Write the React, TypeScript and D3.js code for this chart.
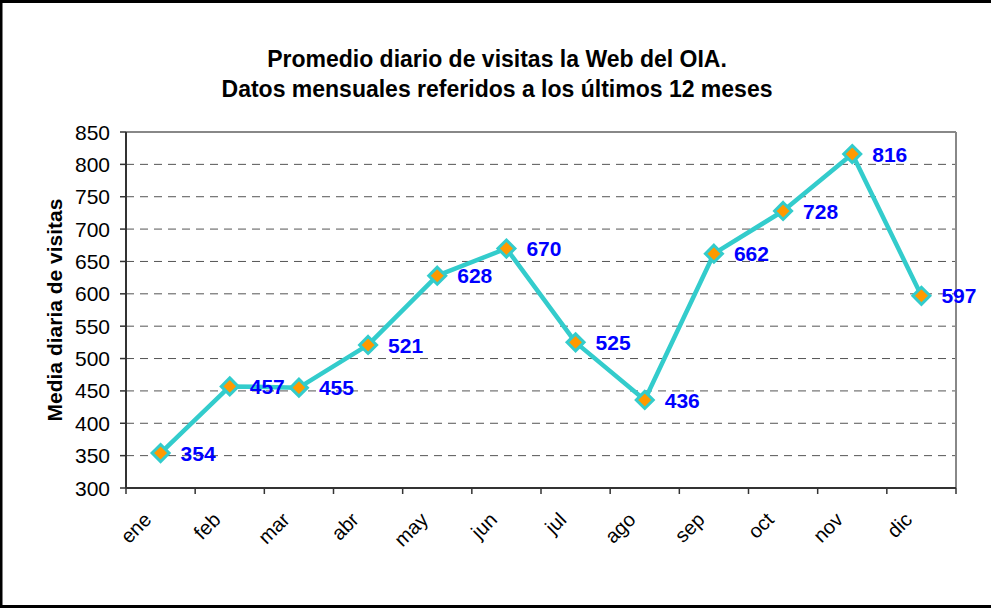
import * as d3 from 'd3';

const months = ['ene', 'feb', 'mar', 'abr', 'may', 'jun', 'jul', 'ago', 'sep', 'oct', 'nov', 'dic'];
const visits = [354, 457, 455, 521, 628, 670, 525, 436, 662, 728, 816, 597];
const yTicks = [300, 350, 400, 450, 500, 550, 600, 650, 700, 750, 800, 850];
const titleLines = ['Promedio diario de visitas la Web del OIA.', 'Datos mensuales referidos a los últimos 12 meses'];
const yLabel = 'Media diaria de visitas';

export default function App() {
    const width = 991
    const height = 610
    const left = 126, right = 956, top = 132, bottom = 488
    const font = 'Arial, "Liberation Sans", sans-serif'

    const x = d3.scaleBand().domain(months).range([left, right]).padding(0)
    const y = d3.scaleLinear().domain([300, 850]).range([bottom, top])
    const cx = (m: string) => (x(m) as number) + x.bandwidth() / 2

    const line = d3.line<number>()
        .x((d, i) => cx(months[i]))
        .y(d => y(d))

    const diamond = (px: number, py: number, r: number) =>
        `M${px},${py - r}L${px + r},${py}L${px},${py + r}L${px - r},${py}Z`

    const edges = months.map(m => x(m) as number).concat([right])

    return (
        <svg width={width} height={height} style={{ position: 'absolute', left: 0, top: 0, background: '#fff' }}
            fontFamily={font}>
            <rect x={1} y={1.5} width={width + 4} height={605} fill="white" stroke="black" strokeWidth={3} />

            {titleLines.map((t, i) => (
                <text key={t} x={497} y={67 + i * 29.5} textAnchor="middle" fontSize={23} fontWeight="bold">{t}</text>
            ))}

            {/* gridlines */}
            {yTicks.filter(t => t > 300 && t < 850).map(t => (
                <line key={t} x1={left} x2={right} y1={y(t)} y2={y(t)} stroke="#555" strokeWidth={1} strokeDasharray="8,6" />
            ))}
            <line x1={left} x2={right} y1={top} y2={top} stroke="#888" strokeWidth={2} />
            <line x1={right} x2={right} y1={top} y2={bottom} stroke="#888" strokeWidth={2} />

            {/* axes */}
            <line x1={left} x2={left} y1={top} y2={bottom} stroke="#333" strokeWidth={2} />
            <line x1={left} x2={right} y1={bottom} y2={bottom} stroke="#333" strokeWidth={2} />
            {yTicks.map(t => (
                <g key={t}>
                    <line x1={left - 6} x2={left} y1={y(t)} y2={y(t)} stroke="#333" strokeWidth={1.5} />
                    <text x={110} y={y(t)} dy="0.36em" textAnchor="end" fontSize={21}>{t}</text>
                </g>
            ))}
            {edges.map((e, i) => (
                <line key={i} x1={e} x2={e} y1={bottom} y2={bottom + 6} stroke="#333" strokeWidth={1.5} />
            ))}
            {months.map(m => (
                <text key={m} transform={`translate(${cx(m) - 8},${bottom + 33}) rotate(-45)`} textAnchor="end"
                    fontSize={20}>{m}</text>
            ))}

            <text transform={`translate(62,${(top + bottom) / 2}) rotate(-90)`} textAnchor="middle" fontSize={21}
                fontWeight="bold">{yLabel}</text>

            <path d={line(visits) as string} fill="none" stroke="#33CCCC" strokeWidth={4.5} strokeLinejoin="round" />
            {visits.map((v, i) => (
                <g key={i}>
                    <path d={diamond(cx(months[i]), y(v), 8.5)} fill="#FF9900" stroke="#33CCCC" strokeWidth={3} />
                    <text x={cx(months[i]) + 20} y={y(v)} dy="0.36em" fill="#0000FF" fontSize={21}
                        fontWeight="bold">{v}</text>
                </g>
            ))}
        </svg>
    )
}
